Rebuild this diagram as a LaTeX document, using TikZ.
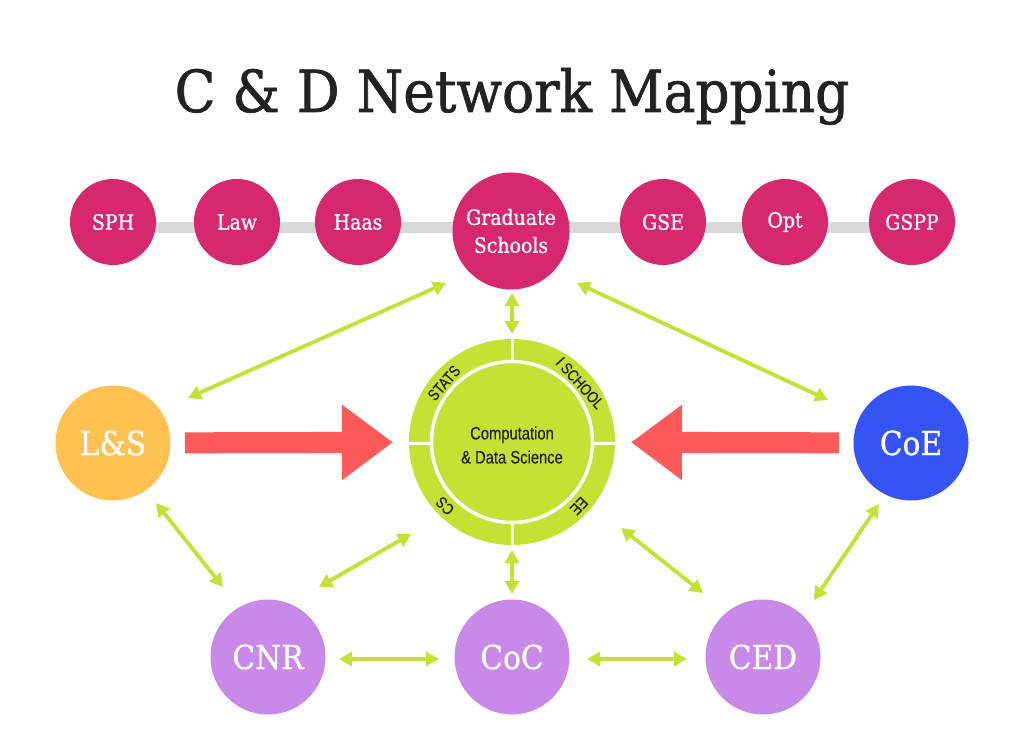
\documentclass[tikz,border=0pt]{standalone}
\usepackage{fontspec}
\setmainfont{DejaVu Serif}
\newfontfamily\slabfont[FakeStretch=0.9,FakeBold=0.8]{DejaVu Serif}
\newfontfamily\titlefont[FakeStretch=0.92,FakeBold=1.2]{DejaVu Serif}
\newfontfamily\narrowsans[FakeStretch=0.82,FakeBold=0.4]{Liberation Sans}
\usetikzlibrary{arrows.meta}
\definecolor{magentac}{RGB}{214,40,110}
\definecolor{barc}{RGB}{217,217,217}
\definecolor{orangec}{RGB}{255,193,80}
\definecolor{bluec}{RGB}{52,84,245}
\definecolor{purplec}{RGB}{200,137,232}
\definecolor{limec}{RGB}{197,226,52}
\definecolor{redc}{RGB}{255,90,90}
\definecolor{darkc}{RGB}{34,34,34}
\begin{document}
\begin{tikzpicture}[x=1pt,y=-1pt,
  circ/.style={circle, inner sep=0pt, text=white, align=center,
    font=\slabfont\fontsize{21}{28}\selectfont},
  topc/.style={circ, fill=magentac, minimum size=86pt},
  bigc/.style={circ, minimum size=115pt, font=\slabfont\fontsize{33}{36}\selectfont},
  garrow/.style={draw=limec, line width=3.8pt,
    {Triangle[length=13pt,width=14pt]}-{Triangle[length=13pt,width=14pt]}},
  rarrow/.style={draw=redc, line width=21pt, -{Triangle[length=51pt,width=72pt]}},
  ringlbl/.style={inner sep=0pt, text=darkc, font=\narrowsans\fontsize{16}{16}\selectfont},
  ringline/.style={draw=white, line width=3pt}
]
\useasboundingbox (0,0) rectangle (1024,743);
\fill[white] (0,0) rectangle (1024,743);

% title
\node[anchor=base, text=darkc, font=\titlefont\fontsize{58}{62}\selectfont] (title) at (512,112) {C \& D Network Mapping};

% grey bar
\fill[barc] (112,222) rectangle (912,233);

% top row
\node[topc] (sph) at (113,222) {SPH};
\node[topc] (law) at (237,222) {Law};
\node[topc] (haas) at (358,222) {Haas};
\node[circ, fill=magentac, minimum size=117pt] (grad) at (511,231) {Graduate\\Schools};
\node[topc] (gse) at (663,222) {GSE};
\node[topc] (opt) at (785,222) {Opt};
\node[topc] (gspp) at (912,222) {GSPP};

% centre ring
\node[circle, fill=limec, minimum size=206pt, inner sep=0pt] (cds) at (512,442) {};
\draw[ringline, line width=3.5pt] (cds.center) circle (80.5);
\draw[ringline] (512,339) -- (512,362);
\draw[ringline] (512,522) -- (512,545);
\draw[ringline] (409,443) -- (432,443);
\draw[ringline] (592,443) -- (615,443);
\node[align=center, text=darkc, font=\narrowsans\fontsize{18}{24}\selectfont] (cdstext) at (512,445) {Computation\\\& Data Science};
\node[ringlbl, rotate=49] (stats) at (444,383) {STATS};
\node[ringlbl, rotate=-48] (isch) at (580,383) {I SCHOOL};
\node[ringlbl, rotate=134] (cs) at (445,506) {CS};
\node[ringlbl, rotate=226] (ee) at (579,506) {EE};

% side circles
\node[bigc, fill=orangec] (ls) at (113,443) {L\&S};
\node[bigc, fill=bluec] (coe) at (911,443) {CoE};

% bottom circles
\node[bigc, fill=purplec] (cnr) at (268,657) {CNR};
\node[bigc, fill=purplec] (coc) at (512,657) {CoC};
\node[bigc, fill=purplec] (ced) at (763,657) {CED};

% red arrows
\draw[rarrow, shorten <=72pt, shorten >=119pt] (ls.center) -- (cds.center);
\draw[rarrow, shorten <=72pt, shorten >=119pt] (coe.center) -- (cds.center);

% green arrow end points
\coordinate (g1) at (446,283); \coordinate (l1) at (188,398);
\coordinate (g2) at (577,283); \coordinate (e1) at (828,400);
\coordinate (g3) at (512,293); \coordinate (c1) at (512,334);
\coordinate (l2) at (156,503); \coordinate (n1) at (223,587);
\coordinate (n2) at (319,587); \coordinate (c2) at (411,534);
\coordinate (c3) at (512,550); \coordinate (o1) at (512,594);
\coordinate (c4) at (621,528); \coordinate (d1) at (703,593);
\coordinate (d2) at (814,600); \coordinate (e2) at (879,504);
\coordinate (n3) at (339,659); \coordinate (o2) at (439,659);
\coordinate (o3) at (587,659); \coordinate (d3) at (687,659);

\draw[garrow] (g1) -- (l1);
\draw[garrow] (g2) -- (e1);
\draw[garrow] (g3) -- (c1);
\draw[garrow] (l2) -- (n1);
\draw[garrow] (n2) -- (c2);
\draw[garrow] (c3) -- (o1);
\draw[garrow] (c4) -- (d1);
\draw[garrow] (d2) -- (e2);
\draw[garrow] (n3) -- (o2);
\draw[garrow] (o3) -- (d3);
\end{tikzpicture}
\end{document}
